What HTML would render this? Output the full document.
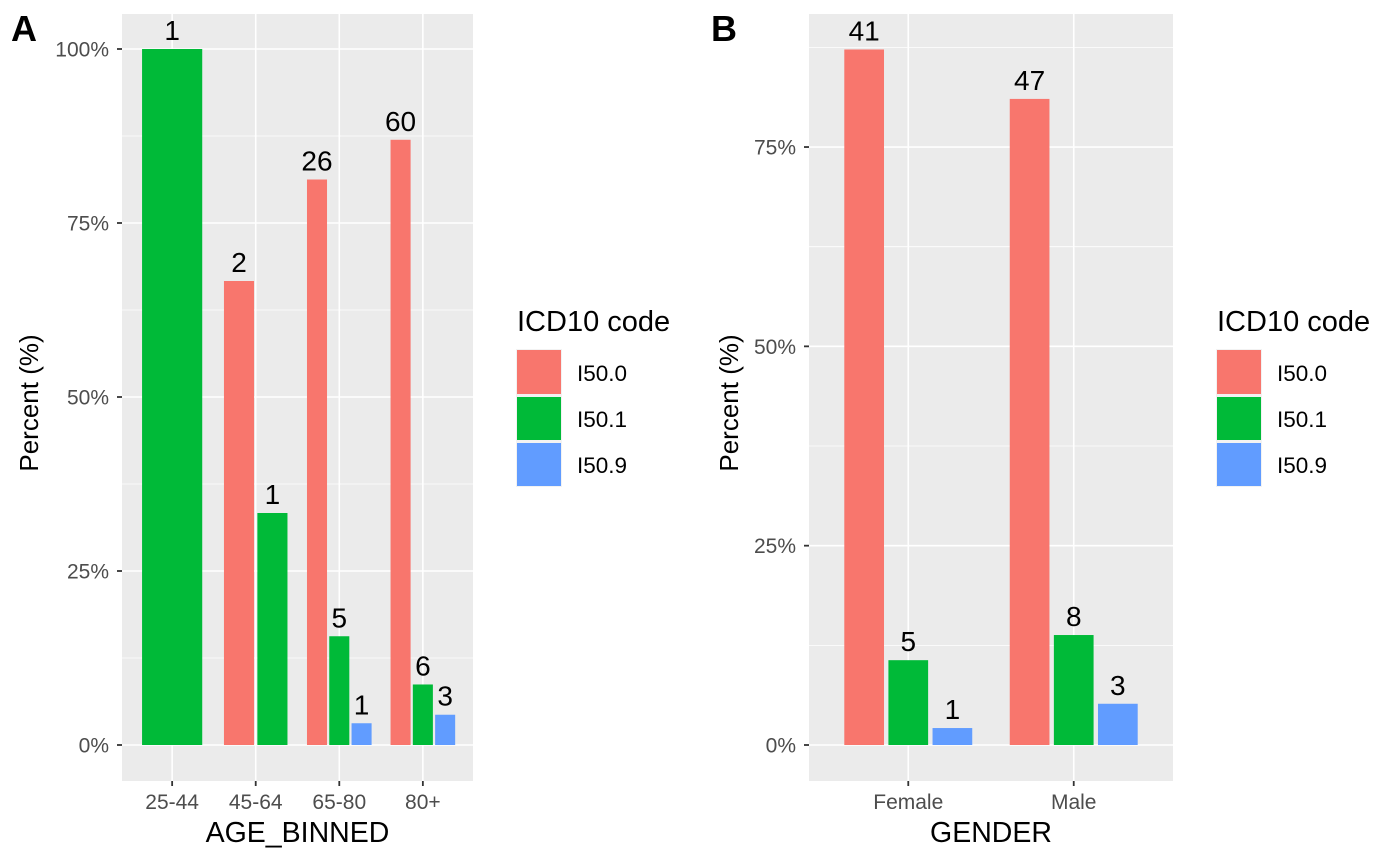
<!DOCTYPE html>
<html><head><meta charset="utf-8"><style>
body{margin:0;background:#fff}
svg{display:block;font-family:"Liberation Sans",Arial,sans-serif}
</style></head><body>
<svg id="chart" width="1400" height="865" xmlns="http://www.w3.org/2000/svg"></svg>
<script>
const codes = ["I50.0","I50.1","I50.9"];
const colors = ["#F8766D","#00BA38","#619CFF"];
const ageCats = ["25-44","45-64","65-80","80+"];
const ageCounts = [[0,1,0],[2,1,0],[26,5,1],[60,6,3]];
const genderCats = ["Female","Male"];
const genderCounts = [[41,5,1],[47,8,3]];
const yTicks = [0,25,50,75,100];
const yTickLabels = ["0%","25%","50%","75%","100%"];

const svg = document.getElementById('chart');
const NS = "http://www.w3.org/2000/svg";
function mk(tag, attrs, parent){
  const e = document.createElementNS(NS, tag);
  for (const k in attrs) e.setAttribute(k, attrs[k]);
  (parent||svg).appendChild(e);
  return e;
}

function panel(opt){
  const g = mk('g', {});
  
  
  const L=opt.left,R=opt.right,T=14,B=781;
  const bg = mk('rect',{x:L,y:T,width:R-L,height:B-T,fill:'#EBEBEB'},g);
  
  
  const y = v => 745 - v*opt.pxPer;
  for (let v=12.5; v<=112.5; v+=25){
    const yy=y(v); if (yy<T) continue;
    const ln = mk('line',{x1:L,x2:R,y1:yy,y2:yy,stroke:'#fff','stroke-width':0.8},g);
    
    
  }
  const n = opt.cats.length;
  const step = (R-L)/(n+0.2);
  const xc = i => L + step*(0.6+i);
  yTicks.forEach((v,i)=>{
    const yy=y(v); if (yy<T) return;
    const ln = mk('line',{x1:L,x2:R,y1:yy,y2:yy,stroke:'#fff','stroke-width':1.6},g);
    
    
    mk('line',{x1:L-5,x2:L,y1:yy,y2:yy,stroke:'#333','stroke-width':1.8},g);
    const t = mk('text',{x:L-13,y:yy+7.5,'text-anchor':'end','font-size':21,fill:'#4D4D4D'},g);
    t.textContent = yTickLabels[i];
    
    
  });
  opt.cats.forEach((c,i)=>{
    const x=xc(i);
    const ln = mk('line',{x1:x,x2:x,y1:T,y2:B,stroke:'#fff','stroke-width':1.6},g);
    
    
    mk('line',{x1:x,x2:x,y1:B,y2:B+5,stroke:'#333','stroke-width':1.8},g);
    const t = mk('text',{x:x,y:809,'text-anchor':'middle','font-size':21,fill:'#4D4D4D'},g);
    t.textContent=c;
    
    
  });
  const groupW = step*0.8;
  opt.counts.forEach((row,i)=>{
    const total = row.reduce((a,b)=>a+b,0);
    const present = row.map((v,k)=>k).filter(k=>row[k]>0);
    const slot = groupW/present.length;
    present.forEach((k,j)=>{
      const pct = row[k]/total*100;
      const x0 = xc(i)-groupW/2 + slot*j + slot*0.05;
      const w = slot*0.9;
      const r = mk('rect',{x:x0,y:y(pct),width:w,height:y(0)-y(pct),fill:colors[k]},g);
      
      
      const t = mk('text',{x:x0+w/2,y:y(pct)-9,'text-anchor':'middle','font-size':28,fill:'#000'},g);
      t.textContent=row[k];
      
      
    });
  });
  const xt = mk('text',{x:(L+R)/2,y:842,'text-anchor':'middle','font-size':28.5,fill:'#000'},g);
  xt.textContent=opt.xTitle;
  
  
  const yt = mk('text',{x:0,y:0,'text-anchor':'middle','font-size':26,fill:'#000',transform:`translate(${opt.ytx},403) rotate(-90)`},g);
  yt.textContent='Percent (%)';
  
  
  const tag = mk('text',{x:opt.tagx,y:41,'font-size':36,'font-weight':'bold',fill:'#000'},g);
  tag.textContent=opt.tag;
  
  
  const lg = mk('g',{},g);
  
  
  const lx=opt.legx;
  const lt = mk('text',{x:lx,y:331,'font-size':29,fill:'#000'},lg);
  lt.textContent='ICD10 code';
  
  
  mk('rect',{x:lx-1,y:349,width:46,height:138,fill:'#F2F2F2'},lg);
  codes.forEach((c,k)=>{
    const yy=350+k*46;
    const r = mk('rect',{x:lx,y:yy+(k?1:0),width:44,height:k?43:44,fill:colors[k]},lg);
    
    
    const t = mk('text',{x:lx+60,y:yy+31,'font-size':22.5,fill:'#000'},lg);
    t.textContent=c;
    
    
  });
}
panel({name:'panel-a',left:122,right:473,pxPer:6.96,cats:ageCats,counts:ageCounts,xTitle:'AGE_BINNED',ytx:38,tag:'A',tagx:11,legx:517});
panel({name:'panel-b',left:809,right:1173,pxPer:7.973,cats:genderCats,counts:genderCounts,xTitle:'GENDER',ytx:738,tag:'B',tagx:711,legx:1217});
</script>
</body></html>
